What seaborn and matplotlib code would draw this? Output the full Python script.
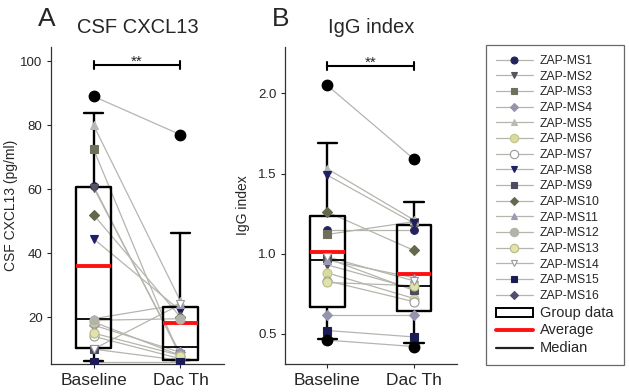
import numpy as np
import pandas as pd
import matplotlib
matplotlib.use("Agg")
import matplotlib.pyplot as plt
import seaborn as sns
from matplotlib.lines import Line2D
from matplotlib.patches import Rectangle

# patients and their markers / colours
patients = ["ZAP-MS%d" % i for i in range(1, 17)]
markers = ["o", "v", "s", "D", "^", "o", "o", "v", "s", "D", "^", "o", "o", "v", "s", "D"]
faces = ["#23235e", "#555560", "#6f705c", "#9494ad", "#b9bab2", "#d9d9a2", "#ffffff", "#1f1f66",
         "#4b4b62", "#66684e", "#9a9ab4", "#b2b3aa", "#e2e2aa", "#ffffff", "#1c1c55", "#50506a"]
edges = ["#23235e", "#555560", "#6f705c", "#9494ad", "#b9bab2", "#c4c48c", "#9a9a9a", "#1f1f66",
         "#4b4b62", "#66684e", "#9a9ab4", "#b2b3aa", "#b8b888", "#9a9a9a", "#1c1c55", "#50506a"]
sizes = [5.5, 5.5, 5.5, 5, 5.5, 6.5, 6.5, 5.5, 5.5, 5, 5.5, 6.5, 6.5, 5.5, 5.5, 5]

groups = ["Baseline", "Dac Th"]

# CSF CXCL13 (pg/ml)
cxcl_base = [61, 60.5, 72.5, 17.5, 80, 18.5, 14, 44.5, 10, 52, 19.5, 19, 15, 10, 6, 89]
cxcl_dac = [8, 8.5, 7, 9, 25, 8, 7, 22, 6.5, 20, 24, 19.5, 8, 24, 6, 77]
# IgG index
igg_base = [1.15, 0.93, 1.12, 0.62, 1.53, 0.88, 0.83, 1.49, 0.97, 1.26, 0.96, 2.05, 0.82, 0.98, 0.52, 0.46]
igg_dac = [1.15, 0.78, 1.20, 0.62, 1.21, 0.72, 0.70, 1.19, 0.77, 1.02, 0.85, 1.59, 0.80, 0.83, 0.48, 0.42]

# group summaries: lower whisker, q1, median, q3, upper whisker, mean, outliers
cxcl_stats = [
    dict(whislo=6.3, q1=10.2, med=19.3, q3=60.8, whishi=83.7, mean=36.0, fliers=[89]),
    dict(whislo=6.6, q1=6.6, med=10.7, q3=23.3, whishi=46.2, mean=18.1, fliers=[77]),
]
igg_stats = [
    dict(whislo=0.47, q1=0.67, med=0.96, q3=1.235, whishi=1.69, mean=1.01, fliers=[2.05, 0.46]),
    dict(whislo=0.44, q1=0.645, med=0.80, q3=1.18, whishi=1.325, mean=0.875, fliers=[1.59, 0.42]),
]

sns.set_theme(style="ticks")
plt.rcParams["font.family"] = ["Liberation Sans", "DejaVu Sans"]

fig = plt.figure(figsize=(6.29, 3.92), dpi=100)
axA = fig.add_axes([0.081, 0.071, 0.275, 0.809])
axB = fig.add_axes([0.453, 0.071, 0.274, 0.809])

line_col = "#b5b5ae"


def draw_panel(ax, base, dac, stats, ylim, yticks, ylabel, title, letter, sig_y):
    df = pd.DataFrame({
        "patient": patients * 2,
        "pos": [0] * 16 + [1] * 16,
        "value": list(base) + list(dac),
    })
    sns.lineplot(data=df, x="pos", y="value", units="patient", estimator=None,
                 color=line_col, linewidth=0.9, ax=ax, legend=False, zorder=1)
    ax.bxp(stats, positions=[0, 1], widths=0.4, showmeans=True, meanline=True,
           capwidths=0.22, patch_artist=False,
           boxprops=dict(color="black", linewidth=1.7),
           whiskerprops=dict(color="black", linewidth=1.7),
           capprops=dict(color="black", linewidth=1.7),
           medianprops=dict(color="black", linewidth=1.3),
           meanprops=dict(color="#ff1010", linewidth=2.8, linestyle="-"),
           flierprops=dict(marker="o", markerfacecolor="black", markeredgecolor="black",
                           markersize=7.5, zorder=4))
    for i, p in enumerate(patients):
        sub = df[df["patient"] == p]
        ax.plot(sub["pos"], sub["value"], linestyle="none", marker=markers[i],
                markersize=sizes[i], markerfacecolor=faces[i], markeredgecolor=edges[i],
                markeredgewidth=0.8, zorder=3)
    ax.set_xlim(-0.49, 1.5)
    ax.set_ylim(*ylim)
    ax.set_yticks(yticks)
    ax.set_xticks([0, 1])
    ax.set_xticklabels(groups, fontsize=12.5)
    ax.tick_params(axis="y", labelsize=9.5, length=3, width=0.8, pad=3)
    ax.tick_params(axis="x", length=3, width=0.8, pad=3)
    ax.set_xlabel("")
    ax.set_ylabel(ylabel, fontsize=10)
    ax.set_title(title, fontsize=14.5, pad=10)
    for s in ["top", "right"]:
        ax.spines[s].set_visible(False)
    for s in ["left", "bottom"]:
        ax.spines[s].set_linewidth(0.9)
        ax.spines[s].set_color("#333333")
    # significance bar
    span = ylim[1] - ylim[0]
    ax.plot([0, 1], [sig_y, sig_y], color="black", linewidth=1.5, zorder=5)
    ax.plot([0, 0], [sig_y - span * 0.013, sig_y + span * 0.013], color="black", linewidth=1.5)
    ax.plot([1, 1], [sig_y - span * 0.013, sig_y + span * 0.013], color="black", linewidth=1.5)
    ax.text(0.5, sig_y - span * 0.012, "**", ha="center", va="bottom", fontsize=11)
    ax.text(-0.075, 1.066, letter, transform=ax.transAxes, fontsize=19,
            ha="left", va="baseline")


draw_panel(axA, cxcl_base, cxcl_dac, cxcl_stats, (5.3, 104.4), [20, 40, 60, 80, 100],
           "CSF CXCL13 (pg/ml)", "CSF CXCL13", "A", 98.8)
draw_panel(axB, igg_base, igg_dac, igg_stats, (0.31, 2.29), [0.5, 1.0, 1.5, 2.0],
           "IgG index", "IgG index", "B", 2.17)
axB.set_yticklabels(["0.5", "1.0", "1.5", "2.0"])
axB.yaxis.set_label_coords(-0.2, 0.5)
axA.yaxis.set_label_coords(-0.19, 0.5)

# legend
handles = []
labels = []
for i, p in enumerate(patients):
    handles.append(Line2D([0], [0], color=line_col, linewidth=0.9, marker=markers[i],
                          markersize=sizes[i] - 0.5, markerfacecolor=faces[i],
                          markeredgecolor=edges[i], markeredgewidth=0.8))
    labels.append(p)
handles.append(Rectangle((0, 0), 1, 1, facecolor="white", edgecolor="black", linewidth=1.4))
labels.append("Group data")
handles.append(Line2D([0], [0], color="#ff1010", linewidth=2.8))
labels.append("Average")
handles.append(Line2D([0], [0], color="#222222", linewidth=1.6))
labels.append("Median")

leg = fig.legend(handles, labels, loc="upper left", bbox_to_anchor=(0.772, 0.886),
                 fontsize=8.8, frameon=True, fancybox=False, edgecolor="#444444",
                 handlelength=3.0, handletextpad=0.6, labelspacing=0.3,
                 borderpad=0.85, borderaxespad=0)
leg.get_frame().set_linewidth(0.9)
for t in leg.get_texts()[16:]:
    t.set_fontsize(10.5)

fig.savefig("out.png", dpi=100)
